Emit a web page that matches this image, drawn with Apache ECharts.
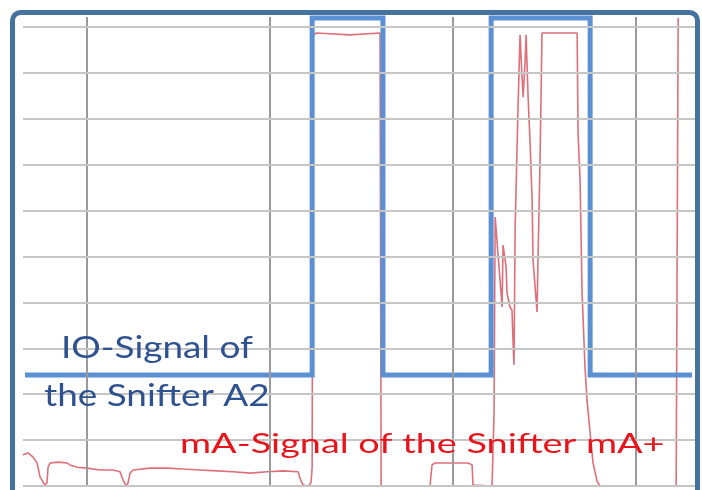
<!DOCTYPE html>
<html>
<head>
<meta charset="utf-8">
<script src="https://cdn.jsdelivr.net/npm/echarts@6/dist/echarts.min.js"></script>
<style>
html,body{margin:0;padding:0;background:#fff;}
#chart{width:702px;height:490px;}
</style>
</head>
<body>
<div id="chart"></div>
<script>
// Time axis (s) and signal level (divisions)
const timeRange = [6.5, 43.22];
const levelRange = [0, 10.22];
const vGridTimes = [10, 20, 30, 40];
const hGridLevels = [0, 1, 2, 3, 4, 5, 6, 7, 8, 9, 10];

// IO-Signal of the Snifter A2 (square wave)
const ioTime  = [6.61, 22.30, 22.30, 26.17, 26.17, 32.08, 32.08, 37.49, 37.49, 43.06];
const ioLevel = [2.42, 2.42, 10.2, 10.2, 2.42, 2.42, 10.2, 10.2, 2.42, 2.42];

// mA-Signal of the Snifter mA+
const mATime = [6.50, 6.78, 7.05, 7.27, 7.43, 7.70, 7.81, 7.87, 7.98, 8.42, 8.91, 9.07, 9.45, 10.00,
  10.71, 11.42, 11.80, 11.97, 12.13, 12.24, 12.35, 12.51, 13.44, 14.37, 15.25, 16.17, 17.10, 17.98,
  18.91, 19.84, 20.71, 21.53, 21.64, 21.80, 22.08, 22.24, 22.30, 22.35, 22.51, 24.37, 26.01, 26.07,
  28.74, 28.85, 29.02, 30.82, 31.04, 31.09, 32.13, 32.24, 32.30, 32.40, 32.68, 32.73, 32.90, 32.95,
  33.11, 33.22, 33.28, 33.33, 33.39, 33.55, 33.66, 33.77, 33.83, 33.93, 33.99, 34.10, 34.21, 34.32,
  34.37, 34.59, 34.64, 34.75, 34.86, 36.78, 36.83, 36.94, 37.05, 37.21, 37.32, 37.49, 37.65, 37.87,
  38.03, 42.19, 42.30];
const mALevel = [0.68, 0.72, 0.63, 0.50, 0.20, 0.02, 0.07, 0.41, 0.50, 0.52, 0.50, 0.46, 0.41, 0.39,
  0.35, 0.35, 0.31, 0.13, 0.00, 0.07, 0.28, 0.35, 0.39, 0.39, 0.37, 0.35, 0.33, 0.31,
  0.28, 0.31, 0.33, 0.31, 0.17, 0.02, 0.00, 0.07, 0.41, 9.80, 9.87, 9.83, 9.87, 0.00,
  0.00, 0.46, 0.50, 0.50, 0.46, 0.02, 0.00, 1.60, 5.86, 5.86, 3.90, 5.25, 4.77, 4.20,
  3.90, 3.83, 3.12, 2.64, 5.58, 8.26, 9.83, 8.91, 8.47, 9.20, 9.83, 8.47, 7.47, 6.23,
  4.92, 3.79, 4.92, 7.04, 9.87, 9.87, 7.69, 6.67, 4.20, 2.59, 1.87, 1.15, 0.50, 0.10,
  0.00, 0.00, 10.2];

const ioLabel = ['IO-Signal of', 'the Snifter A2'];
const mALabel = 'mA-Signal of the Snifter mA+';

const chart = echarts.init(document.getElementById('chart'), null, {renderer: 'canvas'});

const gridMarks = [];
vGridTimes.forEach(t => gridMarks.push({xAxis: t, lineStyle: {color: '#9a9a9a', width: 2, type: 'solid'}}));
hGridLevels.forEach(l => gridMarks.push({yAxis: l, lineStyle: {color: '#c6c6c6', width: 2, type: 'solid'}}));

const option = {
  animation: false,
  backgroundColor: '#ffffff',
  grid: {left: 23, right: 7, top: 17, bottom: 4, containLabel: false},
  xAxis: {type: 'value', min: timeRange[0], max: timeRange[1], show: false},
  yAxis: {type: 'value', min: levelRange[0], max: levelRange[1], show: false},
  series: [
    {
      name: 'grid', type: 'line', data: [], z: 1, silent: true,
      markLine: {silent: true, symbol: ['none', 'none'], label: {show: false}, animation: false, data: gridMarks}
    },
    {
      name: 'mA', type: 'line', z: 2, showSymbol: false, symbol: 'none', clip: false,
      lineStyle: {color: '#dc5f6a', width: 1.6, opacity: 0.9},
      data: mATime.map((t, i) => [t, mALevel[i]])
    },
    {
      name: 'IO', type: 'line', z: 3, showSymbol: false, symbol: 'none', clip: false,
      lineStyle: {color: '#5b91d2', width: 5, join: 'miter'},
      data: ioTime.map((t, i) => [t, ioLevel[i]])
    }
  ],
  graphic: [
    {type: 'rect', z: 100, shape: {x: 12.5, y: 12.5, width: 685, height: 540, r: 8},
      style: {fill: 'none', stroke: '#46729f', lineWidth: 5}},
    {type: 'text', z: 101, x: 61, y: 332, scaleX: 1.19,
      style: {text: ioLabel[0], fill: '#2e5190', font: '31px Lato', verticalAlign: 'top'}},
    {type: 'text', z: 101, x: 44, y: 380, scaleX: 1.19,
      style: {text: ioLabel[1], fill: '#2e5190', font: '31px Lato', verticalAlign: 'top'}},
    {type: 'text', z: 101, x: 180, y: 431, scaleX: 1.40,
      style: {text: mALabel, fill: '#e8141c', font: '27px Lato', verticalAlign: 'top'}}
  ]
};
chart.setOption(option);
</script>
</body>
</html>
